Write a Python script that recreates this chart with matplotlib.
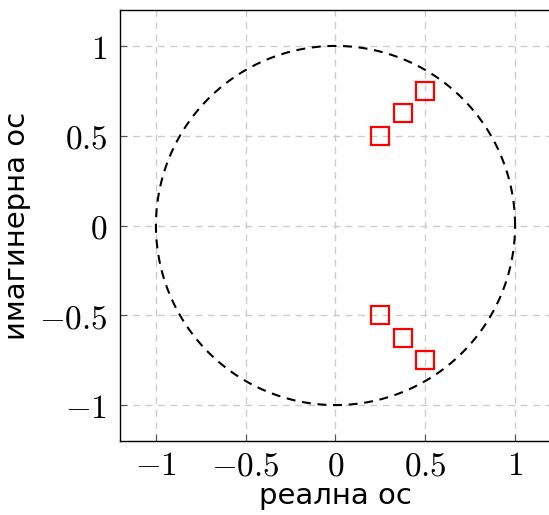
import numpy as np
import matplotlib
matplotlib.use("Agg")
import matplotlib.pyplot as plt

plt.rcParams['mathtext.fontset'] = 'cm'

pole_re = [0.25, 0.375, 0.5, 0.25, 0.375, 0.5]
pole_im = [0.5, 0.625, 0.75, -0.5, -0.625, -0.75]
ticks = [-1, -0.5, 0, 0.5, 1]
tick_labels = [r'$-1$', r'$-0.5$', r'$0$', r'$0.5$', r'$1$']
xlabel = 'реална ос'
ylabel = 'имагинерна ос'

fig = plt.figure(figsize=(5.49, 5.15), dpi=100)
ax = fig.add_axes([120/549, 1-441/515, 431/549, 431/515])

t = np.linspace(0, 2*np.pi, 400)
ax.plot(np.cos(t), np.sin(t), color='black', linestyle=(0, (4.3, 3.2)), linewidth=1.5, zorder=2)
ax.plot(pole_re, pole_im, linestyle='none', marker='s', markersize=13,
        markerfacecolor='none', markeredgecolor='#ff0000', markeredgewidth=1.6, zorder=3)

ax.set_xlim(-1.2, 1.2)
ax.set_ylim(-1.2, 1.2)
ax.set_xticks(ticks)
ax.set_yticks(ticks)
ax.set_xticklabels(tick_labels, fontsize=24)
ax.set_yticklabels(tick_labels, fontsize=24)
ax.tick_params(direction='in', length=5, width=0.8, color='#555555', top=False, right=False)
ax.tick_params(axis='y', pad=9)
ax.tick_params(axis='x', pad=6)
ax.grid(True, color='#cccccc', linestyle=(0, (5, 4)), linewidth=1.0)
ax.set_axisbelow(True)
for s in ax.spines.values():
    s.set_linewidth(1.0)
    s.set_color('black')

ax.set_xlabel(xlabel, fontsize=21, family='DejaVu Sans', labelpad=0)
ax.set_ylabel(ylabel, fontsize=21, family='DejaVu Sans', labelpad=6)

fig.savefig('out.png', dpi=100)
